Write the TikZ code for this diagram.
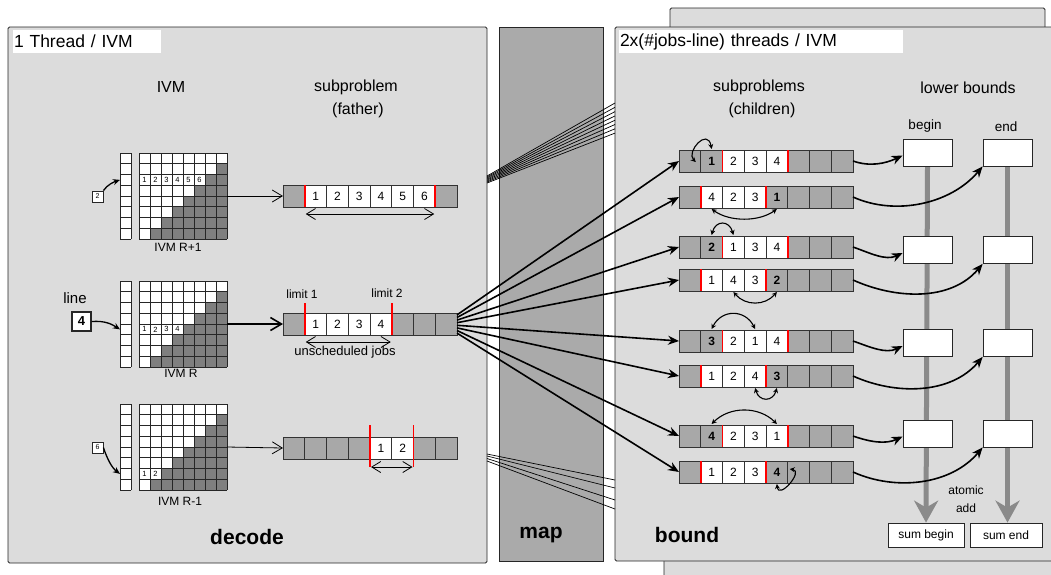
\documentclass[tikz,border=0pt]{standalone}
\usepackage{fontspec}
\setmainfont{Liberation Sans}
\usetikzlibrary{arrows.meta,calc}
\newcommand\myfs[1]{\fontsize{#1}{#1}\selectfont}
\definecolor{panelgray}{HTML}{DCDCDC}
\definecolor{mapgray}{HTML}{AAAAAA}
\definecolor{cellgray}{HTML}{A8A8A8}
\definecolor{ivmdark}{HTML}{7F7F7F}
\definecolor{lbgray}{HTML}{8A8A8A}
\definecolor{limitred}{HTML}{FF0000}
\tikzset{
  panel/.style={draw=black!85, line width=0.9pt, fill=panelgray, rounded corners=1.5pt},
  mappanel/.style={draw=black!85, line width=0.9pt, fill=mapgray},
  titlebox/.style={fill=white, inner sep=1pt, minimum height=23pt, align=left, font=\myfs{17.5}},
  header/.style={font=\myfs{16}, inner sep=0pt},
  lbl/.style={font=\myfs{12}, inner sep=0pt},
  bigword/.style={font=\myfs{21}\bfseries, inner sep=0pt},
  cell/.style={draw=black!80, line width=0.8pt, minimum width=21.75pt, minimum height=22pt, inner sep=0pt, outer sep=0pt, font=\myfs{12}},
  gridln/.style={draw=black!85, line width=0.8pt},
  tinynum/.style={font=\myfs{7.5}, inner sep=0pt},
  inbox/.style={draw=black!85, fill=white, inner sep=0pt, line width=0.8pt},
  inarrow/.style={line width=1.3pt, -{Stealth[length=7pt,width=6pt]}},
  fthin/.style={line width=0.8pt, -{Straight Barb[length=10pt,width=12pt]}},
  fthick/.style={line width=1.6pt, -{Straight Barb[length=11pt,width=13pt]}},
  dbl/.style={line width=0.8pt, {Straight Barb[length=9pt,width=11pt]}-{Straight Barb[length=9pt,width=11pt]}},
  redline/.style={draw=limitred, line width=1.8pt},
  fanthin/.style={line width=0.7pt},
  fanarrow/.style={line width=1.6pt, -{Stealth[length=11pt,width=9pt]}},
  swaparrow/.style={line width=1.1pt, {Stealth[length=5pt,width=5pt]}-{Stealth[length=5pt,width=5pt]}},
  lbin/.style={line width=1.6pt, -{Stealth[length=11pt,width=9pt]}},
  lbbox/.style={draw=black!85, fill=white, line width=0.8pt, minimum width=49pt, minimum height=27pt, inner sep=0pt},
  sumbox/.style={draw=black!85, fill=white, line width=0.8pt, minimum height=24pt, inner sep=0pt, font=\myfs{12}},
  lbarrow/.style={draw=lbgray, line width=5pt, -{Stealth[length=22pt,width=24pt,inset=7pt]}},
}
% row of 8 cells: #1 name, #2 x, #3 top y, #4 list fill/text
\newcommand\cellrow[4]{%
  \foreach[count=\ii from 0] \fc/\tx in {#4} {%
    \node[cell, fill=\fc] (#1-\ii) at (#2+\ii*21.75+10.875, #3+11) {\tx};
  }%
}
% IVM block: #1 name, #2 x0 of matrix, #3 y0, #4 line
\newcommand\ivmblock[4]{%
  \fill[white] (#2-19,#3) rectangle (#2-8,#3+86);
  \foreach \ii in {0,...,8} {\draw[gridln] (#2-19,#3+\ii*10.75) -- (#2-8,#3+\ii*10.75);}
  \draw[gridln] (#2-19,#3) -- (#2-19,#3+86) (#2-8,#3) -- (#2-8,#3+86);
  \fill[white] (#2,#3) rectangle (#2+88,#3+86);
  \foreach \rr in {1,...,7} {\pgfmathtruncatemacro\cc{8-\rr}\fill[ivmdark] (#2+\cc*11,#3+\rr*10.75) rectangle (#2+88,#3+\rr*10.75+10.75);}
  \foreach \ii in {0,...,8} {\draw[gridln] (#2+\ii*11,#3) -- (#2+\ii*11,#3+86); \draw[gridln] (#2,#3+\ii*10.75) -- (#2+88,#3+\ii*10.75);}
  \pgfmathtruncatemacro\nn{8-#4}
  \foreach \kk in {1,...,\nn} {\node[tinynum] (#1-n\kk) at (#2+\kk*11-5.5,#3+#4*10.75+5.375) {\kk};}
  \coordinate (#1-v) at (#2-19,#3+#4*10.75+5.375);
  \coordinate (#1-m) at (#2+88,#3+43);
}
\begin{document}
\begin{tikzpicture}[x=1pt,y=-1pt]
\useasboundingbox (0,0) rectangle (1051,574);
\clip (0,0) rectangle (1051,574);
\fill[white] (0,0) rectangle (1051,574);
% panels
\draw[panel] (670,8) rectangle (1045,200);
\draw[panel] (664,400) rectangle (1075,600);
\draw[panel] (8,27) rectangle (487,563);
\draw[mappanel] (499,27) rectangle (603,561);
\draw[panel] (615,27) rectangle (1075,561);
% titles
\node[titlebox, text width=146pt] (ttl) at (87,41.5) {1 Thread / IVM};
\node[titlebox, text width=282pt] (ttr) at (761,41.5) {2x(\#jobs-line) threads / IVM};
% headers
\node[header] (hivm) at (171,87) {IVM};
\node[header] (hsub) at (356,87) {subproblem};
\node[header] (hfat) at (358,110) {(father)};
\node[header] (hsubs) at (759,87) {subproblems};
\node[header] (hchi) at (762,110) {(children)};
\node[header] (hlb) at (968,88) {lower bounds};
\node[font=\myfs{13.5}, inner sep=0pt] (hbeg) at (925,126) {begin};
\node[font=\myfs{13.5}, inner sep=0pt] (hend) at (1006,127) {end};
% thin fans of the other IVMs
\foreach \ii in {0,...,7} {
  \coordinate (ua\ii) at (487,176+\ii);
  \coordinate (ub\ii) at (615,103+\ii*4.3);
  \draw[fanthin] (ua\ii) -- (ub\ii);
}
\foreach \ii/\ya/\yb in {0/454/480,1/456/488,2/458.5/500,3/461/509} {
  \coordinate (la\ii) at (487,\ya);
  \coordinate (lb\ii) at (615,\yb);
  \draw[fanthin] (la\ii) -- (lb\ii);
}
% IVM blocks
\ivmblock{i1}{139}{153}{2}
\ivmblock{i2}{139}{281}{4}
\ivmblock{i3}{139}{404}{6}
\node[lbl] (lr1) at (178,247) {IVM R+1};
\node[lbl] (lr2) at (181,373) {IVM R};
\node[lbl] (lr3) at (180,501) {IVM R-1};
% line inputs
\node[inbox, minimum size=11pt, font=\myfs{7}] (in1) at (97.5,196.5) {2};
\node[inbox, minimum size=19pt, line width=1.1pt, font=\myfs{13}\bfseries] (in2) at (81.5,321.5) {4};
\node[inbox, minimum size=11pt, font=\myfs{7}] (in3) at (97.5,447.5) {6};
\node[font=\myfs{15}, inner sep=0pt] (linelbl) at (75,298) {line};
\draw[inarrow] (in1.north east) .. controls +(4,-6) and +(-6,2) .. (i1-v);
\draw[inarrow] (in2.east) .. controls +(14,-1) and +(-8,-5) .. (i2-v);
\draw[inarrow] (in3.east) .. controls +(4,12) and +(-8,-6) .. (i3-v);
% father subproblems
\cellrow{f1}{283}{185}{cellgray/{},white/1,white/2,white/3,white/4,white/5,white/6,cellgray/{}}
\cellrow{f2}{283}{313}{cellgray/{},white/1,white/2,white/3,white/4,cellgray/{},cellgray/{},cellgray/{}}
\cellrow{f3}{283}{437}{cellgray/{},cellgray/{},cellgray/{},cellgray/{},white/1,white/2,cellgray/{},cellgray/{}}
\draw[redline] (f1-1.north west) -- (f1-1.south west);
\draw[redline] (f1-7.north west) -- (f1-7.south west);
\draw[redline] ($(f2-1.north west)+(0,-10)$) -- (f2-1.south west);
\draw[redline] ($(f2-5.north west)+(0,-10)$) -- (f2-5.south west);
\draw[redline] ($(f3-4.north west)+(0,-12)$) -- ($(f3-4.south west)+(0,8)$);
\draw[redline] ($(f3-6.north west)+(0,-12)$) -- ($(f3-6.south west)+(0,8)$);
\draw[fthin] (i1-m) -- (f1-0.west);
\draw[fthick] (i2-m) -- (f2-0.west);
\draw[fthin] (i3-m) -- (f3-0.west);
\draw[dbl] ($(f1-1.south west)+(1,7)$) -- ($(f1-7.south west)+(-1,7)$);
\draw[dbl] ($(f2-1.south west)+(1,7)$) -- ($(f2-5.south west)+(-1,7)$);
\draw[dbl] ($(f3-4.south west)+(1,8)$) -- ($(f3-6.south west)+(-1,8)$);
\node[lbl] (lim1) at (302,294) {limit 1};
\node[lbl] (lim2) at (387,293) {limit 2};
\node[font=\myfs{13}, inner sep=0pt] (unsch) at (345,352) {unscheduled jobs};
% children
\cellrow{c1}{679}{150}{cellgray/{},cellgray/\textbf{1},white/2,white/3,white/4,cellgray/{},cellgray/{},cellgray/{}}
\cellrow{c2}{679}{186}{cellgray/{},white/4,white/2,white/3,cellgray/\textbf{1},cellgray/{},cellgray/{},cellgray/{}}
\cellrow{c3}{679}{236}{cellgray/{},cellgray/\textbf{2},white/1,white/3,white/4,cellgray/{},cellgray/{},cellgray/{}}
\cellrow{c4}{679}{269}{cellgray/{},white/1,white/4,white/3,cellgray/\textbf{2},cellgray/{},cellgray/{},cellgray/{}}
\cellrow{c5}{679}{330}{cellgray/{},cellgray/\textbf{3},white/2,white/1,white/4,cellgray/{},cellgray/{},cellgray/{}}
\cellrow{c6}{679}{365}{cellgray/{},white/1,white/2,white/4,cellgray/\textbf{3},cellgray/{},cellgray/{},cellgray/{}}
\cellrow{c7}{679}{425}{cellgray/{},cellgray/\textbf{4},white/2,white/3,white/1,cellgray/{},cellgray/{},cellgray/{}}
\cellrow{c8}{679}{461}{cellgray/{},white/1,white/2,white/3,cellgray/\textbf{4},cellgray/{},cellgray/{},cellgray/{}}
\foreach \rw in {c1,c3,c5,c7} {
  \draw[redline] (\rw-2.north west) -- (\rw-2.south west);
  \draw[redline] (\rw-5.north west) -- (\rw-5.south west);
}
\foreach \rw in {c2,c4,c6,c8} {
  \draw[redline] (\rw-1.north west) -- (\rw-1.south west);
  \draw[redline] (\rw-4.north west) -- (\rw-4.south west);
}
% swaps
\draw[swaparrow] ($(c1-1.west)+(-5,1)$) .. controls +(-10,-10) and +(-4,-22) .. ($(c1-1.north)+(0,-1)$);
\draw[swaparrow] ($(c2-1.south)+(0,1)$) .. controls +(18,13) and +(-18,13) .. ($(c2-4.south)+(0,1)$);
\draw[swaparrow] ($(c3-1.north)+(0,-1)$) .. controls +(4,-15) and +(-4,-15) .. ($(c3-2.north)+(0,-1)$);
\draw[swaparrow] ($(c4-2.south)+(0,1)$) .. controls +(12,14) and +(-12,14) .. ($(c4-4.south)+(0,1)$);
\draw[swaparrow] ($(c5-1.north)+(0,-1)$) .. controls +(10,-20) and +(-10,-20) .. ($(c5-3.north)+(0,-1)$);
\draw[swaparrow] ($(c6-3.south)+(0,1)$) .. controls +(4,14) and +(-4,14) .. ($(c6-4.south)+(0,1)$);
\draw[swaparrow] ($(c7-1.north)+(0,-1)$) .. controls +(18,-18) and +(-18,-18) .. ($(c7-4.north)+(0,-1)$);
\draw[swaparrow] ($(c8-4.east)+(2,-3)$) .. controls +(14,2) and +(2,16) .. ($(c8-4.south)+(0,1)$);
% fan from father to children
\foreach \kk in {1,...,8} {\draw[fanarrow] ($(f2-7.east)+(0,{(\kk-4.5)*2.6})$) -- (c\kk-0.west);}
% lower bounds
\node[sumbox, minimum width=76pt] (sb) at (926,535) {sum begin};
\node[sumbox, minimum width=72pt] (se) at (1006,535) {sum end};
\coordinate (gbt) at (927.5,166);
\coordinate (get) at (1007.5,166);
\draw[lbarrow] (gbt) -- (sb.north);
\draw[lbarrow] (get) -- ($(se.north)+(1.5,0)$);
\foreach \bx/\yy in {1/152.5,2/250,3/343,4/433.5} {
  \node[lbbox] (lbb\bx) at (927.5,\yy) {};
  \node[lbbox] (lbe\bx) at (1007.5,\yy) {};
}
\foreach \rw/\bx in {1/1,3/2,5/3,7/4} {\draw[lbin] (c\rw-7.east) .. controls +(17,6) and +(-17,8) .. ($(lbb\bx.west)+(0,3)$);}
\foreach \rw/\bx in {2/1,4/2,6/3,8/4} {\draw[lbin] (c\rw-7.east) .. controls +(42,19) and +(-32,38) .. (lbe\bx.south west);}
\node[lbl] (atom) at (966,490) {atomic};
\node[lbl] (atadd) at (966,508) {add};
% big words
\node[bigword] (wdec) at (247,537) {decode};
\node[bigword] (wmap) at (541,535) {map};
\node[bigword] (wbnd) at (687,535) {bound};
\end{tikzpicture}
\end{document}
